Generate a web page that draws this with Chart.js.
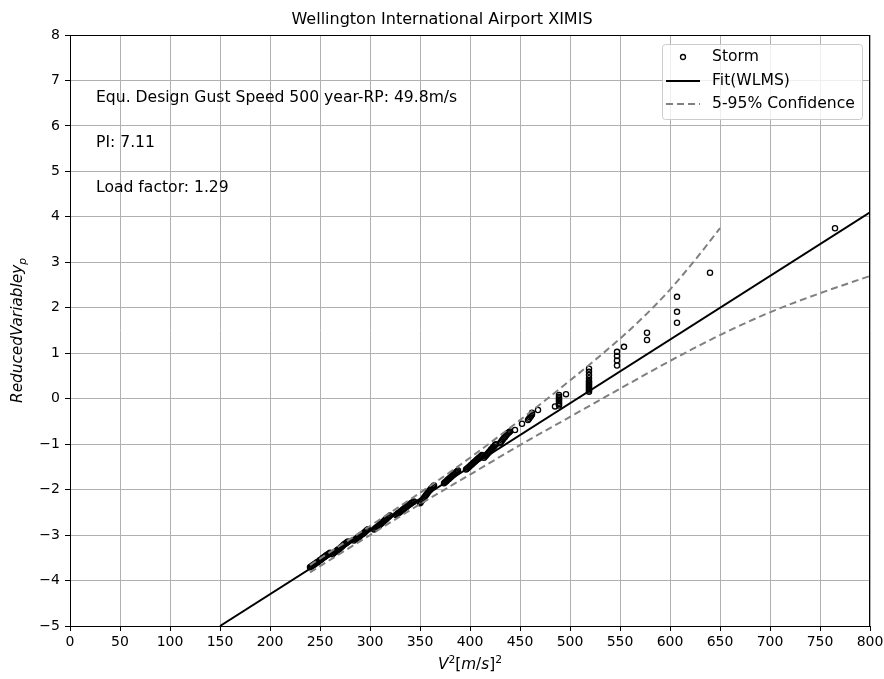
<!DOCTYPE html>
<html><head><meta charset="utf-8">
<script src="https://cdn.jsdelivr.net/npm/chart.js@4/dist/chart.umd.min.js"></script>
<style>html,body{margin:0;padding:0;background:#fff}</style>
</head><body>
<canvas id="c" width="884" height="679"></canvas>
<script>
const titleText = "Wellington International Airport XIMIS";
const annotationLines = ["Equ. Design Gust Speed 500 year-RP: 49.8m/s", "PI: 7.11", "Load factor: 1.29"];
const legendLabels = ["Storm", "Fit(WLMS)", "5-95% Confidence"];

const stormX = [
  240,241,242,243,244,245,246,247,248,249,250,251,252,253,254,255,256,257,258,259,260,
  262,263,264,265,266,267,268,269,270,271,272,273,274,275,276,277,278,
  284,285,286,287,288,289,290,291,292,293,294,295,296,297,298,
  304,305,306,307,308,309,310,311,312,313,314,315,316,317,318,319,320,
  326,327,328,329,330,331,332,333,334,335,336,337,338,339,340,341,342,343,344,
  350,351,352,353,354,355,356,357,358,359,360,361,362,363,364,
  374,375,376,377,378,379,380,381,382,383,384,385,386,387,388,
  396,397,398,399,400,401,402,403,404,405,406,407,408,409,410,411,412,
  414,415,416,417,418,419,420,421,422,423,424,425,426,
  430,431,432,433,434,435,436,437,438,439,440,
  445,452,458,459,460,461,462,462,468,485,
  489,489,489,489,489,489,489,489,496,
  519,519,519,519,519,519,519,519,519,519,519,519,519,
  547,547,547,547,554,577,577,607,607,607,640,765];
const stormY = [
  -3.71,-3.69,-3.68,-3.66,-3.65,-3.63,-3.62,-3.60,-3.59,-3.57,-3.55,-3.54,-3.52,-3.50,-3.49,-3.47,-3.45,-3.44,-3.42,-3.41,-3.39,
  -3.42,-3.41,-3.39,-3.37,-3.36,-3.34,-3.32,-3.31,-3.29,-3.27,-3.25,-3.23,-3.21,-3.19,-3.18,-3.16,-3.14,
  -3.12,-3.10,-3.09,-3.07,-3.05,-3.04,-3.02,-3.00,-2.98,-2.97,-2.95,-2.93,-2.91,-2.89,-2.87,
  -2.88,-2.86,-2.84,-2.82,-2.81,-2.79,-2.77,-2.75,-2.73,-2.71,-2.69,-2.67,-2.65,-2.63,-2.61,-2.59,-2.57,
  -2.56,-2.54,-2.52,-2.51,-2.49,-2.47,-2.46,-2.44,-2.42,-2.40,-2.39,-2.37,-2.35,-2.33,-2.32,-2.30,-2.29,-2.27,-2.26,
  -2.30,-2.27,-2.24,-2.21,-2.18,-2.15,-2.12,-2.09,-2.06,-2.03,-2.01,-1.98,-1.96,-1.93,-1.91,
  -1.86,-1.84,-1.82,-1.80,-1.78,-1.76,-1.74,-1.72,-1.70,-1.68,-1.66,-1.64,-1.62,-1.60,-1.58,
  -1.56,-1.54,-1.52,-1.50,-1.48,-1.46,-1.44,-1.42,-1.40,-1.38,-1.36,-1.34,-1.32,-1.30,-1.28,-1.26,-1.24,
  -1.30,-1.27,-1.25,-1.22,-1.20,-1.17,-1.15,-1.12,-1.10,-1.07,-1.05,-1.02,-1.00,
  -0.98,-0.95,-0.92,-0.89,-0.86,-0.84,-0.81,-0.78,-0.76,-0.74,-0.72,
  -0.69,-0.55,-0.47,-0.44,-0.41,-0.38,-0.35,-0.31,-0.25,-0.17,
  -0.15,-0.12,-0.09,-0.05,-0.02,0.01,0.04,0.08,0.10,
  0.15,0.18,0.21,0.24,0.27,0.30,0.33,0.36,0.39,0.45,0.52,0.59,0.66,
  0.73,0.84,0.94,1.03,1.14,1.29,1.45,1.67,1.91,2.24,2.77,3.75];

const fitX = [150, 800];
const fitY = [-5, 4.1];

const upperX = [240,300,350,400,450,500,550,575,600,625,650];
const upperY = [-3.66,-2.80,-2.07,-1.30,-0.47,0.40,1.32,1.83,2.40,3.05,3.75];

const lowerX = [240,300,350,400,450,500,550,600,650,700,750,800];
const lowerY = [-3.82,-3.00,-2.32,-1.67,-1.02,-0.40,0.22,0.83,1.40,1.90,2.32,2.70];

const xTicks = [0,50,100,150,200,250,300,350,400,450,500,550,600,650,700,750,800];
const yTicks = [-5,-4,-3,-2,-1,0,1,2,3,4,5,6,7,8];

const FONT = "'DejaVu Sans', sans-serif";
const TXT = 15.6;
const pts = (xs, ys) => xs.map((x, i) => ({x: x, y: ys[i]}));
const fmt = v => (v < 0 ? '\u2212' + Math.abs(v) : String(v));

function segFont(s, size) {
  const fs = s.sup || s.sub ? size * 0.7 : size;
  return (s.it ? 'italic ' : '') + fs + 'px ' + FONT;
}
function drawRich(ctx, segs, size) {
  let x = 0;
  for (const s of segs) {
    ctx.font = segFont(s, size);
    const dy = s.sup ? -size * 0.42 : (s.sub ? size * 0.25 : 0);
    ctx.fillText(s.t, x, dy);
    x += ctx.measureText(s.t).width;
  }
  return x;
}
function richWidth(ctx, segs, size) {
  let x = 0;
  for (const s of segs) { ctx.font = segFont(s, size); x += ctx.measureText(s.t).width; }
  return x;
}

const decor = {
  id: 'decor',
  afterDraw(chart) {
    const ctx = chart.ctx, a = chart.chartArea;
    ctx.save();
    ctx.strokeStyle = '#000'; ctx.lineWidth = 1;
    ctx.strokeRect(a.left + 0.5, a.top + 0.5, a.right - a.left - 1, a.bottom - a.top);
    ctx.fillStyle = '#000';
    ctx.font = '16px ' + FONT;
    ctx.textAlign = 'center'; ctx.textBaseline = 'middle';
    ctx.fillText(titleText, chart.width / 2, 20);
    ctx.font = TXT + 'px ' + FONT;
    ctx.textAlign = 'left';
    const ay = [98, 143, 188];
    annotationLines.forEach((t, i) => ctx.fillText(t, a.left + 26, ay[i]));
    ctx.textBaseline = 'alphabetic'; ctx.textAlign = 'left';
    const xs = [{t:'V', it:true},{t:'2', sup:true},{t:'['},{t:'m', it:true},{t:'/'},{t:'s', it:true},{t:']'},{t:'2', sup:true}];
    const xw = richWidth(ctx, xs, 15.3);
    ctx.save(); ctx.translate((a.left + a.right) / 2 - xw / 2, 669); drawRich(ctx, xs, 15.3); ctx.restore();
    const ys = [{t:'ReducedVariabley', it:true},{t:'p', it:true, sub:true}];
    const yw = richWidth(ctx, ys, 15.3);
    ctx.save(); ctx.translate(22, (a.top + a.bottom) / 2 + yw / 2); ctx.rotate(-Math.PI / 2); drawRich(ctx, ys, 15.3); ctx.restore();
    // legend
    const lx = 662, ly = 44, lw = 200, lh = 75;
    ctx.beginPath();
    if (ctx.roundRect) ctx.roundRect(lx + 0.5, ly + 0.5, lw, lh, 3); else ctx.rect(lx + 0.5, ly + 0.5, lw, lh);
    ctx.fillStyle = 'rgba(255,255,255,0.8)'; ctx.fill();
    ctx.strokeStyle = '#cccccc'; ctx.lineWidth = 1; ctx.stroke();
    const rows = [57, 81, 104];
    ctx.beginPath(); ctx.arc(683, rows[0], 2.5, 0, Math.PI * 2);
    ctx.strokeStyle = '#000'; ctx.lineWidth = 1.3; ctx.stroke();
    ctx.beginPath(); ctx.moveTo(666, rows[1]); ctx.lineTo(700, rows[1]);
    ctx.strokeStyle = '#000'; ctx.lineWidth = 2; ctx.stroke();
    ctx.beginPath(); ctx.setLineDash([7, 4]); ctx.moveTo(666, rows[2]); ctx.lineTo(700, rows[2]);
    ctx.strokeStyle = '#808080'; ctx.lineWidth = 2; ctx.stroke(); ctx.setLineDash([]);
    ctx.fillStyle = '#000'; ctx.font = TXT + 'px ' + FONT; ctx.textBaseline = 'middle';
    legendLabels.forEach((t, i) => ctx.fillText(t, 712, rows[i]));
    ctx.restore();
  }
};

new Chart(document.getElementById('c'), {
  type: 'scatter',
  data: {
    datasets: [
      { label: legendLabels[0], data: pts(stormX, stormY), order: 5,
        pointStyle: 'circle', pointRadius: 2.6, pointBorderWidth: 1.3,
        borderColor: '#000', backgroundColor: 'rgba(0,0,0,0)', showLine: false },
      { label: legendLabels[1], data: pts(fitX, fitY), order: 1, showLine: true,
        pointRadius: 0, borderColor: '#000', borderWidth: 2 },
      { label: legendLabels[2], data: pts(upperX, upperY), order: 2, showLine: true,
        pointRadius: 0, borderColor: '#808080', borderWidth: 2, borderDash: [7, 4],
        cubicInterpolationMode: 'monotone' },
      { label: legendLabels[2] + ' low', data: pts(lowerX, lowerY), order: 2, showLine: true,
        pointRadius: 0, borderColor: '#808080', borderWidth: 2, borderDash: [7, 4],
        cubicInterpolationMode: 'monotone' }
    ]
  },
  options: {
    responsive: false, animation: false, devicePixelRatio: 1,
    layout: { padding: { top: 35, right: 14, left: 0, bottom: 0 } },
    plugins: { legend: { display: false }, title: { display: false }, tooltip: { enabled: false } },
    scales: {
      x: {
        type: 'linear', min: 0, max: 800,
        afterFit(s) { s.height = 53; s.paddingRight = 0; s.paddingLeft = 0; },
        afterBuildTicks(s) { s.ticks = xTicks.map(v => ({ value: v })); },
        ticks: { autoSkip: false, maxRotation: 0, padding: 3, color: '#000',
          font: { family: FONT, size: 14 }, callback: v => fmt(v) },
        grid: { color: '#b0b0b0', lineWidth: 1, tickColor: '#000', tickLength: 5 },
        border: { color: '#000', width: 1 }
      },
      y: {
        type: 'linear', min: -5, max: 8,
        afterFit(s) { s.width = 70; s.paddingTop = 0; s.paddingBottom = 0; },
        afterBuildTicks(s) { s.ticks = yTicks.map(v => ({ value: v })); },
        ticks: { autoSkip: false, padding: 5, color: '#000',
          font: { family: FONT, size: 14 }, callback: v => fmt(v) },
        grid: { color: '#b0b0b0', lineWidth: 1, tickColor: '#000', tickLength: 5 },
        border: { color: '#000', width: 1 }
      }
    }
  },
  plugins: [decor]
});
</script>
</body></html>
